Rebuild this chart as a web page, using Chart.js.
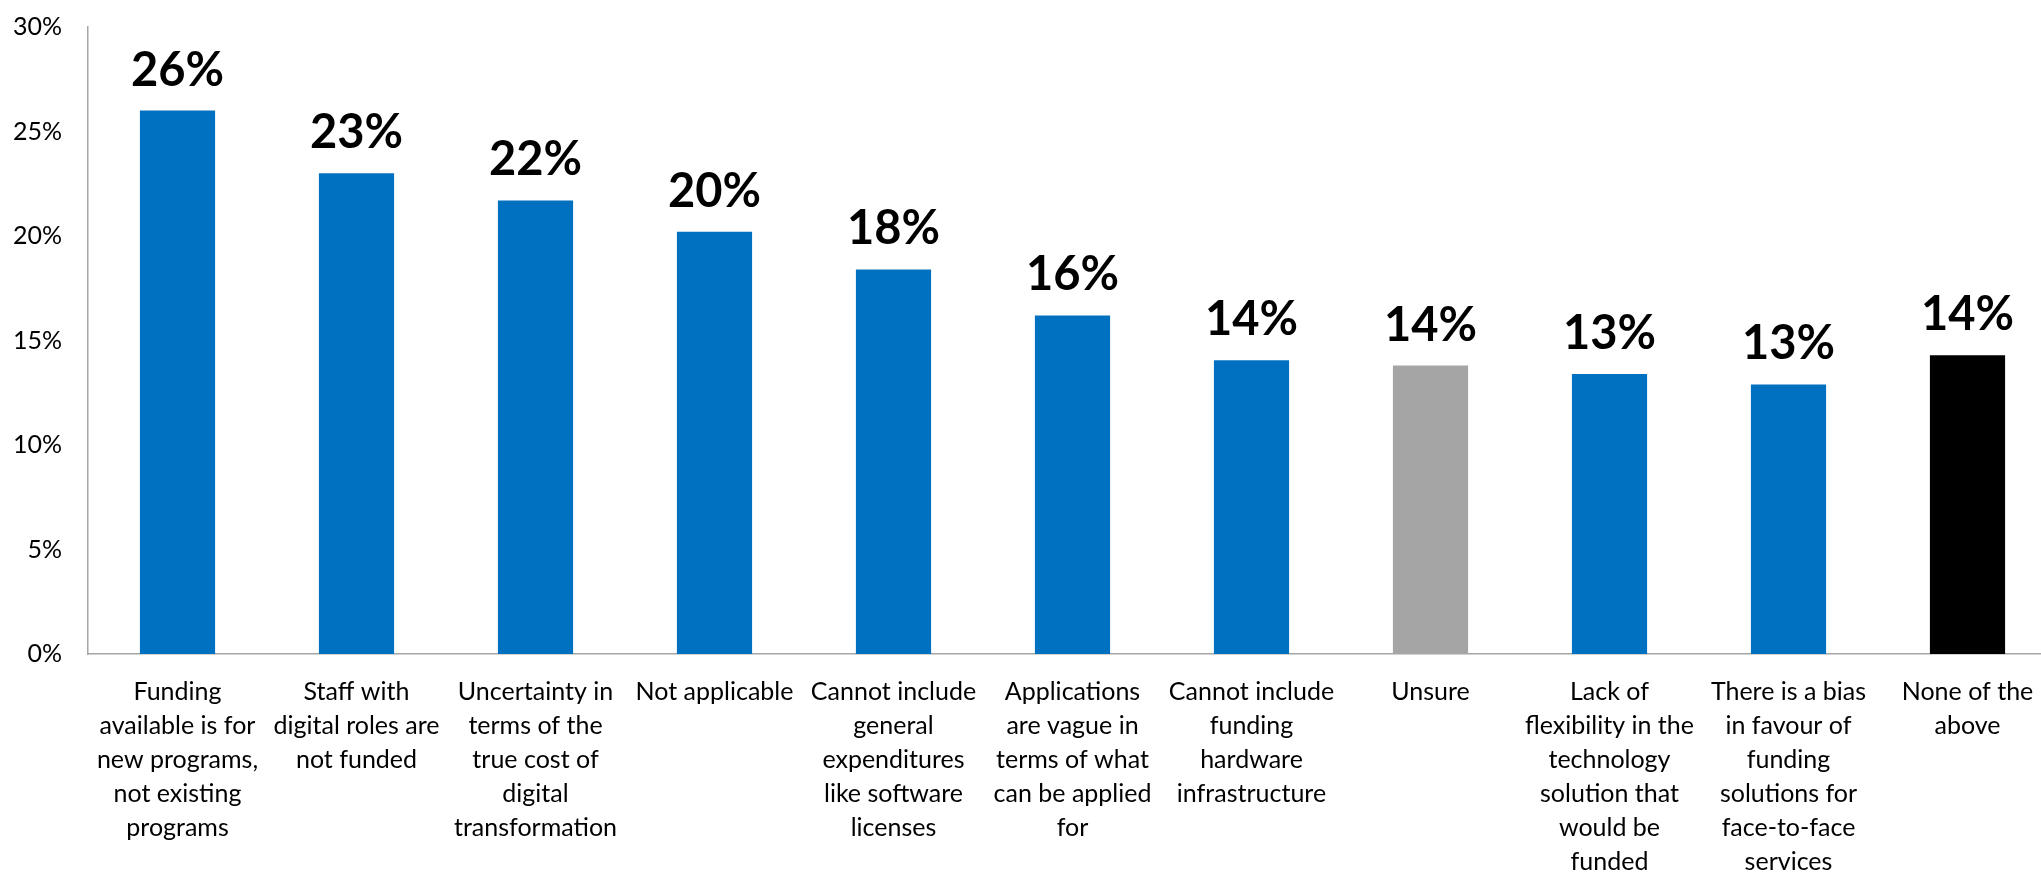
<!DOCTYPE html>
<html>
<head>
<meta charset="utf-8">
<script src="https://cdn.jsdelivr.net/npm/chart.js@4/dist/chart.umd.min.js"></script>
<style>
  html, body { margin: 0; padding: 0; background: #fff; overflow: hidden; }
  #wrap { width: 2041px; height: 872px; overflow: hidden; }
</style>
</head>
<body>
<div id="wrap"><canvas id="chart" width="2060" height="872"></canvas></div>
<script>
// Catégories (une ligne par entrée du tableau)
const categories = [
    ['Funding', 'available is for', 'new programs,', 'not existing', 'programs'],
    ['Staff with', 'digital roles are', 'not funded'],
    ['Uncertainty in', 'terms of the', 'true cost of', 'digital', 'transformation'],
    ['Not applicable'],
    ['Cannot include', 'general', 'expenditures', 'like software', 'licenses'],
    ['Applications', 'are vague in', 'terms of what', 'can be applied', 'for'],
    ['Cannot include', 'funding', 'hardware', 'infrastructure'],
    ['Unsure'],
    ['Lack of', 'flexibility in the', 'technology', 'solution that', 'would be', 'funded'],
    ['There is a bias', 'in favour of', 'funding', 'solutions for', 'face-to-face', 'services'],
    ['None of the', 'above']
];

// Pourcentages des répondants
const values = [26.0, 23.0, 21.7, 20.2, 18.4, 16.2, 14.05, 13.8, 13.4, 12.9, 14.3];

// Graduations de l'axe Y
const yTicks = [0, 5, 10, 15, 20, 25, 30];

// Couleurs des barres
const BLUE = '#0070C0', GREY = '#A5A5A5', BLACK = '#000000';
const barColors = [BLUE, BLUE, BLUE, BLUE, BLUE, BLUE, BLUE, GREY, BLUE, BLUE, BLACK];

const FONT = 'Lato, "Open Sans", sans-serif';

// Étiquettes de valeur au-dessus des barres
const valueLabels = {
    id: 'valueLabels',
    afterDatasetsDraw(chart) {
        const ctx = chart.ctx;
        const meta = chart.getDatasetMeta(0);
        ctx.save();
        ctx.font = 'bold 47px ' + FONT;
        ctx.fillStyle = '#000';
        ctx.textAlign = 'center';
        ctx.textBaseline = 'alphabetic';
        meta.data.forEach((bar, i) => {
            ctx.fillText(Math.round(values[i]) + '%', bar.x, bar.y - 25);
        });
        ctx.restore();
    }
};

new Chart(document.getElementById('chart'), {
    type: 'bar',
    data: {
        labels: categories,
        datasets: [{
            data: values,
            backgroundColor: barColors,
            borderWidth: 0,
            barPercentage: 0.42,
            categoryPercentage: 1.0
        }]
    },
    options: {
        responsive: false,
        animation: false,
        devicePixelRatio: 1,
        layout: { padding: { top: 27, right: 3, left: 0, bottom: 0 } },
        plugins: {
            legend: { display: false },
            tooltip: { enabled: false }
        },
        scales: {
            x: {
                grid: { display: false, drawTicks: false },
                border: { color: '#A6A6A6', width: 1.5 },
                ticks: {
                    color: '#000',
                    font: { family: FONT, size: 25, lineHeight: 1.36 },
                    padding: 21,
                    maxRotation: 0,
                    autoSkip: false
                },
                afterFit(scale) { scale.height = 872 - 654; }
            },
            y: {
                min: 0,
                max: 30,
                afterBuildTicks(scale) { scale.ticks = yTicks.map(v => ({ value: v })); },
                // tickLength sert d'écart entre l'axe et les libellés (le padding décale aussi le haut)
                grid: { display: false, drawTicks: true, tickLength: 26 },
                border: { color: '#A6A6A6', width: 1.5 },
                ticks: {
                    color: '#000',
                    font: { family: FONT, size: 25 },
                    padding: 0,
                    callback: v => v + '%'
                },
                afterFit(scale) { scale.width = 88; }
            }
        }
    },
    plugins: [valueLabels]
});
</script>
</body>
</html>
